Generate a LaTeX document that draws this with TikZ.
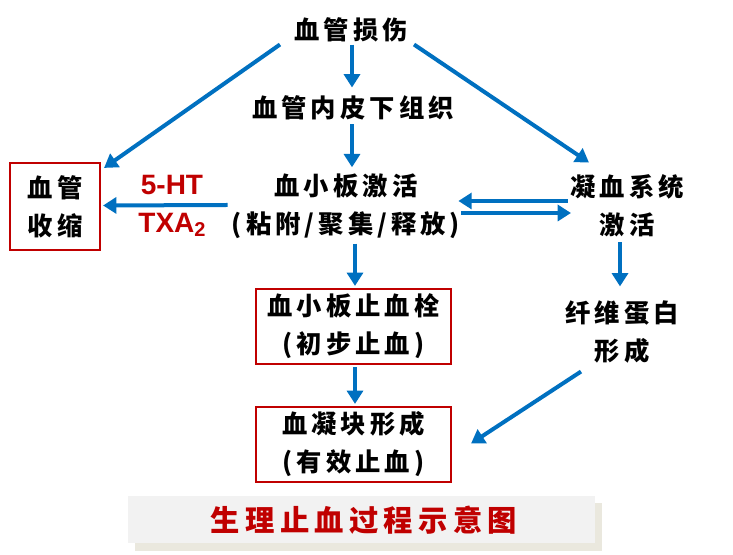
\documentclass[tikz,border=0pt]{standalone}
\usepackage{fontspec}
\usetikzlibrary{arrows.meta,calc}
\newfontfamily\cjk[LetterSpace=16]{Noto Sans CJK SC}
\newfontfamily\capfont[LetterSpace=18]{Noto Sans CJK SC}
\setsansfont{Liberation Sans}
\definecolor{flowblue}{HTML}{0070C0}
\definecolor{boxred}{HTML}{C00000}
\definecolor{capfill}{HTML}{F2F2F2}
\definecolor{capshade}{HTML}{EAE8DE}
\begin{document}
\begin{tikzpicture}[x=0.75pt,y=-0.75pt,
  txt/.style={font=\cjk\bfseries\fontsize{19}{28.5}\selectfont, align=center, inner sep=0pt},
  chem/.style={font=\sffamily\bfseries\fontsize{21}{28.5}\selectfont, text=boxred, align=center, inner sep=0pt},
  redbox/.style={txt, draw=boxred, line width=1.6pt},
  arr/.style={draw=flowblue, line width=3pt, -{Triangle[length=10pt,width=12pt]}}]
\useasboundingbox (0,0) rectangle (733,555);

% caption panel with its shadow
\fill[capshade] (135,503) rectangle (602,551);
\fill[capfill] (128,496) rectangle (595,543);
\node[font=\capfont\bfseries\fontsize{22}{24}\selectfont, text=boxred, inner sep=0pt] (cap) at (364,520) {生理止血过程示意图};

% stages
\node[txt] (inj) at (351,30) {血管损伤};
\node[txt] (endo) at (353,108) {血管内皮下组织};
\node[txt] (plt) at (346,206) {血小板激活\\(粘附/聚集/释放)};
\node[txt] (coag) at (627,206) {凝血系统\\激活};
\node[txt] (fib) at (622,332) {纤维蛋白\\形成};
\node[chem] (med) at (172,206) {5-HT\\TXA\raisebox{-0.3ex}{\fontsize{15}{15}\selectfont 2}};
\node[redbox, minimum width=67.5pt, minimum height=65.25pt] (vc) at (55,206.5) {血管\\收缩};
\node[redbox, minimum width=146.25pt, minimum height=56.25pt] (thr) at (353.5,326.5) {血小板止血栓\\(初步止血)};
\node[redbox, minimum width=146.25pt, minimum height=56.25pt] (clot) at (353.5,444.5) {血凝块形成\\(有效止血)};

% named ends of the vertical runs
\coordinate (a1) at ($(inj.south)+(1,2)$);
\coordinate (a2) at ($(plt.south)+(9,5)$);
\coordinate (a3) at ($(coag.south)+(-7,5)$);

% connectors
\draw[arr] (a1) -- (a1 |- {$(endo.north)+(0,-8)$});
\draw[arr] ($(inj.south west)+(-14,2)$) -- ($(vc.north east)+(3,6)$);
\draw[arr] ($(inj.south east)+(6,2)$) -- ($(coag.north west)+(19,-12)$);
\draw[arr] (a1 |- {$(endo.south)+(0,4)$}) -- (a1 |- {$(plt.north)+(0,-6)$});
\draw[arr] ($(plt.west)+(-4,-1)$) -- ($(vc.east)+(2,-1)$);
\draw[arr] ($(coag.west)+(-2,-5)$) -- ($(plt.east)+(-2,-5)$);
\draw[arr] ($(plt.east)+(1,7)$) -- ($(coag.west)+(1,7)$);
\draw[arr] (a2) -- (a2 |- {$(thr.north)+(0,-2)$});
\draw[arr] (a2 |- {$(thr.south)+(0,2)$}) -- (a2 |- {$(clot.north)+(0,-2)$});
\draw[arr] (a3) -- (a3 |- {$(fib.north)+(0,-14)$});
\draw[arr] ($(fib.south west)+(16,8)$) -- ($(clot.east)+(19,-1)$);
\end{tikzpicture}
\end{document}
